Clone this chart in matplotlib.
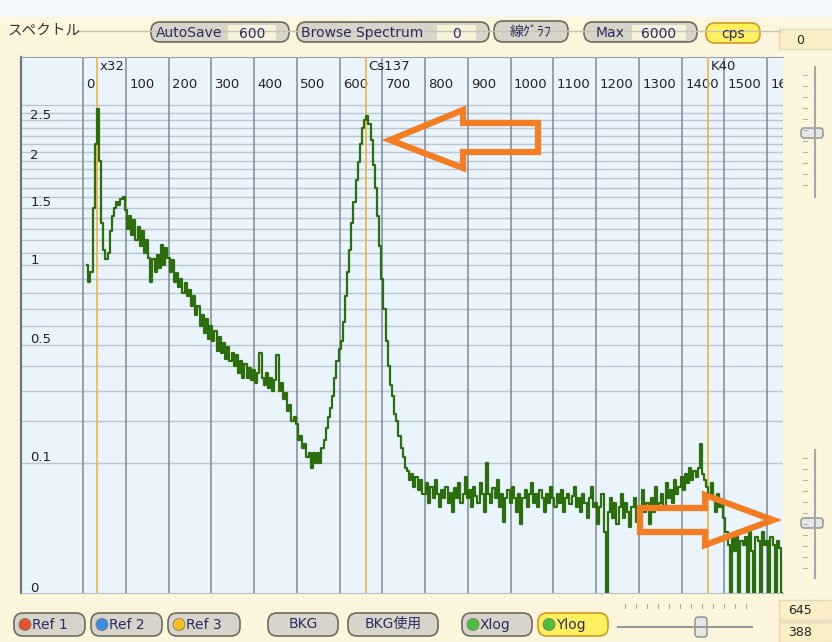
import numpy as np
import matplotlib
matplotlib.use("Agg")
import matplotlib.pyplot as plt
import matplotlib.transforms as mtrans
from matplotlib.patches import FancyBboxPatch, Polygon, Circle, Rectangle

plt.rcParams['font.family'] = ['DejaVu Sans', 'Noto Sans CJK JP']

# spectrum in cps, 5-channel bins starting at channel 10
cps = [
    # 10 - 95
    1.0, 0.88, 0.95, 1.5, 2.2, 2.65, 2.0, 1.35, 1.12, 1.05,
    1.1, 1.28, 1.42, 1.5, 1.55, 1.52, 1.58, 1.6,
    # 100 - 495
    1.48, 1.3, 1.42, 1.25, 1.38, 1.2, 1.32, 1.15, 1.28, 1.1,
    1.2, 1.06, 0.88, 1.05, 0.95, 1.08, 0.98, 1.16, 1.0, 1.14,
    1.06, 0.95, 1.04, 0.88, 0.94, 0.84, 0.9, 0.8, 0.87, 0.78,
    0.82, 0.72, 0.78, 0.66, 0.72, 0.6, 0.66, 0.56, 0.64, 0.53,
    0.6, 0.52, 0.57, 0.47, 0.54, 0.46, 0.51, 0.43, 0.49, 0.42,
    0.46, 0.4, 0.45, 0.37, 0.42, 0.35, 0.41, 0.35, 0.39, 0.34,
    0.38, 0.33, 0.37, 0.46, 0.35, 0.32, 0.37, 0.31, 0.35, 0.3,
    0.34, 0.45, 0.3, 0.33, 0.27, 0.29, 0.23, 0.25, 0.2, 0.21,
    # 500 - 795
    0.19, 0.15, 0.16, 0.13, 0.14, 0.11, 0.12, 0.09, 0.12, 0.1,
    0.12, 0.1, 0.13, 0.15, 0.18, 0.21, 0.24, 0.28, 0.35, 0.42,
    0.48, 0.52, 0.62, 0.78, 0.95, 1.12, 1.35, 1.55, 1.78, 1.98,
    2.2, 2.4, 2.5, 2.55, 2.45, 2.25, 1.95, 1.7, 1.42, 1.15,
    0.9, 0.7, 0.52, 0.4, 0.32, 0.28, 0.22, 0.2, 0.16, 0.13,
    0.11, 0.09, 0.085, 0.07, 0.08, 0.06, 0.075, 0.055, 0.07, 0.05,
    # 800 - 1195
    0.05, 0.065, 0.04, 0.06, 0.045, 0.07, 0.05, 0.035, 0.055, 0.045,
    0.06, 0.04, 0.052, 0.03, 0.058, 0.045, 0.065, 0.04, 0.05, 0.075,
    0.045, 0.055, 0.035, 0.06, 0.048, 0.04, 0.065, 0.05, 0.03, 0.1,
    0.05, 0.04, 0.058, 0.045, 0.07, 0.035, 0.05, 0.022, 0.045, 0.055,
    0.04, 0.06, 0.045, 0.03, 0.05, 0.02, 0.045, 0.055, 0.035, 0.05,
    0.065, 0.04, 0.05, 0.035, 0.055, 0.045, 0.03, 0.05, 0.04, 0.06,
    0.045, 0.035, 0.05, 0.04, 0.055, 0.03, 0.045, 0.05, 0.038, 0.048,
    0.06, 0.035, 0.045, 0.03, 0.05, 0.04, 0.025, 0.045, 0.06, 0.035,
    # 1200 - 1635
    0.04, 0.02, 0.035, 0.05, 0.015, 0.0, 0.03, 0.045, 0.025, 0.04,
    0.02, 0.035, 0.05, 0.025, 0.04, 0.03, 0.018, 0.035, 0.045, 0.022,
    0.035, 0.025, 0.055, 0.03, 0.04, 0.02, 0.045, 0.03, 0.06, 0.035,
    0.04, 0.05, 0.035, 0.065, 0.045, 0.055, 0.04, 0.07, 0.05, 0.06,
    0.075, 0.055, 0.08, 0.065, 0.09, 0.07, 0.085, 0.075, 0.09, 0.14,
    0.08, 0.07, 0.06, 0.05, 0.065, 0.045, 0.03, 0.05, 0.035, 0.04,
    0.025, 0.015, 0.008, 0.0, 0.012, 0.006, 0.015, 0.0, 0.01, 0.008,
    0.012, 0.0, 0.015, 0.006, 0.0, 0.012, 0.01, 0.0, 0.015, 0.008,
    0.01, 0.0, 0.012, 0.008, 0.0, 0.01, 0.007, 0.0,
]
channel = 10 + 5 * np.arange(len(cps))

x_ticks = list(range(0, 1700, 100))
y_grid = [round(0.1 * k, 1) for k in range(1, 28)]
y_labels = [0, 0.1, 0.5, 1, 1.5, 2, 2.5]
markers = [32, 662, 1461]
marker_names = ["x32", "Cs137", "K40"]

W, H = 832, 642
fig = plt.figure(figsize=(W / 100, H / 100), dpi=100)
fig.patch.set_facecolor('#fdf5dc')

# pixel-space layer for the window chrome (y grows downwards)
ui = fig.add_axes([0, 0, 1, 1], zorder=0)
ui.set_xlim(0, W)
ui.set_ylim(H, 0)
ui.axis('off')

ui.add_patch(Rectangle((0, 0), W, 16, color='#f5f8fa'))
ui.plot([78, 780], [31, 31], color='#c8c2b0', lw=1)
ui.text(8, 31, 'スペクトル', fontsize=10.5, va='center', color='#333333',
        family=['Noto Sans CJK JP', 'DejaVu Sans'])

txt_col = '#2b2b66'
bfs = 10


def pill(x0, y0, x1, y1, face='#d8d4ca', edge='#6d6a62'):
    ui.add_patch(FancyBboxPatch((x0, y0), x1 - x0, y1 - y0,
                                boxstyle='round,pad=0,rounding_size=9',
                                fc=face, ec=edge, lw=1.2))


def valbox(x0, x1, y0, y1, s):
    ui.add_patch(Rectangle((x0, y0), x1 - x0, y1 - y0, fc='#f8f1dc', ec='none'))
    ui.text((x0 + x1) / 2, (y0 + y1) / 2 + 1, s, ha='center', va='center',
            fontsize=bfs, color=txt_col)


# top row
pill(151, 22, 289, 42)
ui.text(156, 33, 'AutoSave', va='center', fontsize=bfs, color=txt_col)
valbox(228, 276, 25, 40, '600')
pill(297, 22, 489, 42)
ui.text(301, 33, 'Browse Spectrum', va='center', fontsize=bfs, color=txt_col)
valbox(437, 476, 25, 40, '0')
pill(494, 21, 568, 42)
ui.text(531, 32, '線ｸﾞﾗﾌ', ha='center', va='center', fontsize=10, color=txt_col,
        family=['Noto Sans CJK JP', 'DejaVu Sans'])
pill(584, 22, 697, 42)
ui.text(596, 33, 'Max', va='center', fontsize=bfs, color=txt_col)
valbox(632, 686, 25, 40, '6000')
pill(706, 23, 760, 43, face='#fff15e', edge='#cf9a22')
ui.text(733, 34, 'cps', ha='center', va='center', fontsize=bfs, color=txt_col)
ui.add_patch(Rectangle((779, 29), 53, 20, fc='#fbefc8', ec='#e3d9bc', lw=1))
ui.text(800, 40, '0', ha='center', va='center', fontsize=9, color='#222222')

# bottom row
bottom_buttons = [
    (14, 85, 'Ref 1', '#e2532c'), (91, 162, 'Ref 2', '#3a8fe0'),
    (168, 240, 'Ref 3', '#f2c21c'), (268, 338, 'BKG', None),
    (348, 438, 'BKG使用', None), (462, 532, 'Xlog', '#4cbf3c'),
    (538, 608, 'Ylog', '#4cbf3c'),
]
for x0, x1, lab, dot in bottom_buttons:
    if lab == 'Ylog':
        pill(x0, 613, x1, 636, face='#fff15e', edge='#cf9a22')
    else:
        pill(x0, 613, x1, 636)
    if dot:
        ui.add_patch(Circle((x0 + 11, 624.5), 6, fc=dot, ec='#7a7a7a', lw=0.6))
        ui.text(x0 + 18, 625, lab, va='center', fontsize=bfs, color=txt_col)
    else:
        ui.text((x0 + x1) / 2, 624, lab, ha='center', va='center', fontsize=bfs,
                color=txt_col, family=['DejaVu Sans', 'Noto Sans CJK JP'])

ui.plot([618, 752], [627, 627], color='#9a9a9a', lw=1.5)
for k in range(12):
    ui.plot([625 + k * 11, 625 + k * 11], [604, 608], color='#b0aa98', lw=0.8)
ui.add_patch(FancyBboxPatch((695, 617), 12, 20, boxstyle='round,pad=0,rounding_size=3',
                            fc='#e6e6e6', ec='#8a8a8a', lw=1))
for yy, s in [(600, '645'), (622, '388')]:
    ui.add_patch(Rectangle((779, yy), 53, 20, fc='#fbefc8', ec='#e3d9bc', lw=1))
    ui.text(800, yy + 11, s, ha='center', va='center', fontsize=9, color='#222222')

# vertical sliders on the right
for top, bot, thumb in [(67, 197, 133), (450, 578, 523)]:
    ui.plot([815, 815], [top, bot], color='#a8a8a8', lw=1.5)
    for yy in np.arange(top + 8, bot - 5, 11):
        ui.plot([803, 807], [yy, yy], color='#b8b2a0', lw=0.8)
    ui.add_patch(FancyBboxPatch((801, thumb - 5), 22, 10, boxstyle='round,pad=0,rounding_size=3',
                                fc='#e8e8e8', ec='#8a8a8a', lw=1))


# spectrum plot, y on a power (^0.4) scale
def fwd(y):
    return np.sign(y) * np.abs(y) ** 0.4


def inv(y):
    return np.sign(y) * np.abs(y) ** 2.5


ax = fig.add_axes([21 / W, 1 - 593 / H, (783 - 21) / W, (593 - 57) / H], zorder=1)
ax.set_facecolor('#eaf4fd')
ax.set_yscale('function', functions=(fwd, inv))
ax.set_xlim(-145, 1637)
ax.set_ylim(0, 3.42)
ax.set_xticks([])
ax.set_yticks([])
ax.yaxis.set_minor_locator(matplotlib.ticker.NullLocator())
ax.xaxis.set_minor_locator(matplotlib.ticker.NullLocator())
for side, col in [('left', '#6e7680'), ('top', '#9aa4ae'), ('bottom', '#b4bec8')]:
    ax.spines[side].set_color(col)
ax.spines['left'].set_linewidth(1.6)
ax.spines['right'].set_visible(False)

for v in y_grid:
    ax.axhline(v, color='#bac6d2', lw=1, zorder=1)
for t in x_ticks:
    ax.axvline(t, color='#7f8994', lw=1.1, zorder=2)

tr = mtrans.blended_transform_factory(ax.transData, ax.transAxes)
for t in x_ticks:
    ax.text(t + 8, 0.948, str(t), transform=tr, fontsize=9.5, va='center',
            ha='left', color='#222222', clip_on=True)

for m, name in zip(markers, marker_names):
    ax.axvline(m, color='#f0b43a', lw=1.2, zorder=3)
    ax.text(m + 6, 0.983, name, transform=tr, fontsize=9.5, va='center',
            ha='left', color='#222222', clip_on=True)

for v in y_labels:
    ax.annotate(str(v), xy=(0.012, v), xycoords=('axes fraction', 'data'),
                xytext=(0, 5), textcoords='offset pixels', va='center',
                fontsize=9.5, color='#222222')

ax.plot(channel, cps, drawstyle='steps-mid', color='#2d6e0c', lw=1.6, zorder=4)

# orange call-out arrows
ov = fig.add_axes([0, 0, 1, 1], zorder=5)
ov.set_xlim(0, W)
ov.set_ylim(H, 0)
ov.axis('off')
ov.patch.set_visible(False)
arrow_left = [(390, 140), (463, 110), (463, 123), (538, 123), (538, 152),
              (463, 152), (463, 168)]
arrow_right = [(640, 508), (705, 508), (705, 495), (773, 520), (705, 545),
               (705, 532), (640, 532)]
for pts in (arrow_left, arrow_right):
    ov.add_patch(Polygon(pts, closed=True, fill=False, ec='#f47c22', lw=4.5,
                         joinstyle='miter'))

fig.savefig('out.png', dpi=100, facecolor=fig.get_facecolor())
